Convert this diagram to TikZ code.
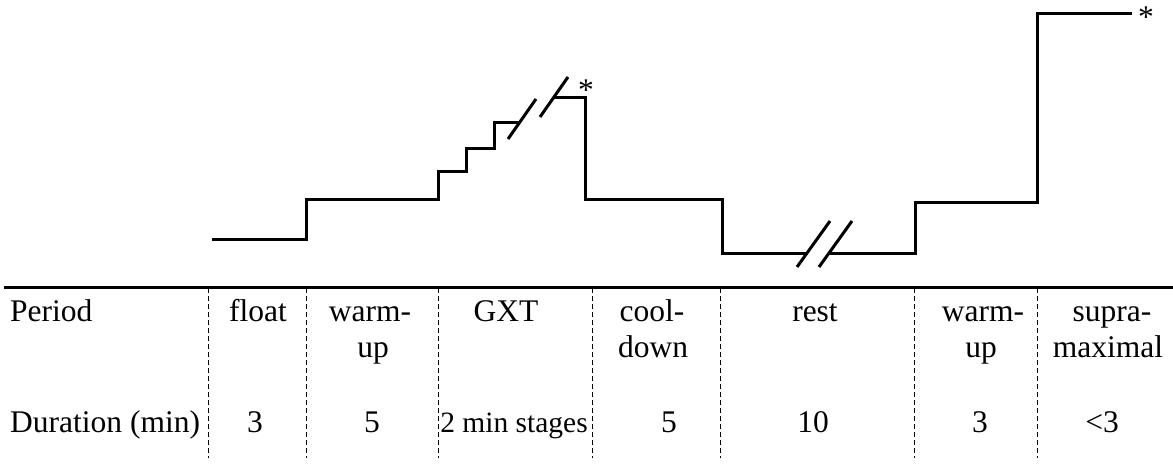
\documentclass[tikz,border=0pt]{standalone}
\usepackage{fontspec}
\setmainfont{Liberation Serif}
\begin{document}
\begin{tikzpicture}[x=1pt,y=-1pt,
  prof/.style={line width=3pt,line cap=butt,line join=miter},
  brk/.style={line width=3pt},
  rule/.style={line width=3pt},
  sep/.style={line width=1pt,dash pattern=on 5pt off 3pt},
  txt/.style={inner sep=0pt,anchor=base,font=\fontsize{31.5}{36}\selectfont},
  ltxt/.style={txt,anchor=base west}]
\useasboundingbox (0,0) rectangle (1173,468);
% profile
\draw[prof] (212,239) -- (306,239) -- (306,199) -- (438,199) -- (438,172) -- (466,172) -- (466,149) -- (494,149) -- (494,123) -- (519,123);
\draw[brk] (508,139) -- (536,99);
\draw[brk] (540,117) -- (568,77);
\draw[prof] (553,98) -- (585,98) -- (585,199) -- (722,199) -- (722,253) -- (807,253);
\draw[brk] (797,267) -- (830,221);
\draw[brk] (819,267) -- (852,221);
\draw[prof] (829,253) -- (915,253) -- (915,202) -- (1037,202) -- (1037,14) -- (1132,14);
\node[txt] (ast1) at (586,100.5) {*};
\node[txt] (ast2) at (1146,27.5) {*};
% table
\draw[rule] (4,287) -- (1173,287);
\foreach \x in {208,306,438,592,720,914,1037}
  \draw[sep] (\x,288) -- (\x,458);
\node[ltxt] (period) at (10,321) {Period};
\node[ltxt] (duration) at (10,432) {Duration (min)};
\node[txt] (p1) at (258,321) {float};
\node[txt] (p2a) at (370,321) {warm-};
\node[txt] (p2b) at (373,357) {up};
\node[txt] (p3) at (506,321) {GXT};
\node[txt] (p4a) at (652,321) {cool-};
\node[txt] (p4b) at (653,357) {down};
\node[txt] (p5) at (815,321) {rest};
\node[txt] (p6a) at (983,321) {warm-};
\node[txt] (p6b) at (981,357) {up};
\node[txt] (p7a) at (1112,321) {supra-};
\node[txt] (p7b) at (1108,357) {maximal};
\node[txt] (d1) at (255,432) {3};
\node[txt] (d2) at (372,432) {5};
\node[txt,font=\fontsize{29.5}{36}\selectfont] (d3) at (514,432) {2 min stages};
\node[txt] (d4) at (669,432) {5};
\node[txt] (d5) at (813,432) {10};
\node[txt] (d6) at (980,432) {3};
\node[txt] (d7) at (1102,432) {<3};
\end{tikzpicture}
\end{document}
